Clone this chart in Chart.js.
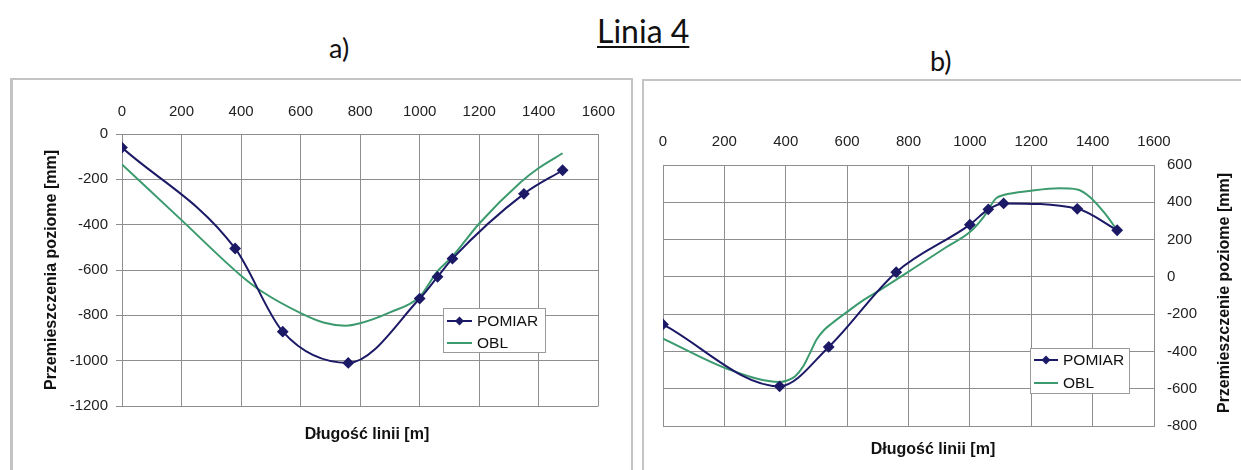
<!DOCTYPE html>
<html><head><meta charset="utf-8">
<script src="https://cdn.jsdelivr.net/npm/chart.js@4.4.1/dist/chart.umd.min.js"></script>
<style>
body{margin:0;width:1241px;height:470px;background:#fff;position:relative;overflow:hidden;font-family:"Liberation Sans",Arial,sans-serif;}
.frame{position:absolute;border:2px solid #c4c4c4;border-bottom:none;box-sizing:border-box;}
#fa{left:10px;top:78px;width:623px;height:392px;border-left-width:3px;}
#fb{left:642px;top:79px;width:599px;height:391px;border-right:none;}
canvas{position:absolute;}
#ca{left:12px;top:80px;}
#cb{left:644px;top:81px;}
.lbl{position:absolute;font-family:Lato,"Open Sans",sans-serif;color:#111;white-space:nowrap;line-height:1;}
#title{left:597px;top:15px;font-size:32px;text-decoration:underline;text-underline-offset:3px;text-decoration-thickness:2px;}
#la{left:329px;top:34px;font-size:27px;}
#lb{left:930px;top:47px;font-size:27px;}
</style></head>
<body>
<div class="frame" id="fa"></div>
<div class="frame" id="fb"></div>
<div class="lbl" id="title">Linia 4</div>
<div class="lbl" id="la">a)</div>
<div class="lbl" id="lb">b)</div>
<canvas id="ca" width="616" height="390"></canvas>
<canvas id="cb" width="597" height="389"></canvas>
<script>
// ---- data ----
const xTicks = [0,200,400,600,800,1000,1200,1400,1600];
const yTicksA = [-1200,-1000,-800,-600,-400,-200,0];
const yTicksB = [-800,-600,-400,-200,0,200,400,600];

const distA   = [0,380,540,760,1000,1060,1110,1350,1480];
const pomiarA = [-60,-505,-872,-1010,-726,-630,-550,-264,-160];
const oblDistA = [0,200,400,470,600,680,750,800,900,1000,1060,1110,1200,1340,1400,1480];
const oblA     = [-134,-380,-625,-695,-790,-833,-846,-835,-787,-718,-605,-540,-395,-212,-150,-85];

const distB   = [0,380,540,760,1000,1060,1110,1350,1480];
const pomiarB = [-255,-587,-376,25,280,362,394,365,250];
const oblDistB = [0,220,380,405,430,457,480,501,525,550,600,653,700,760,816,924,1000,1045,1085,1110,1200,1290,1350,1390,1440,1480];
const oblB     = [-331,-500,-564,-556,-535,-480,-405,-335,-285,-250,-188,-125,-78,-15,45,160,240,322,421,439,462,475,469,430,340,250];

const seriesNames = ['POMIAR','OBL'];
const xTitle = 'Długość linii [m]';
const yTitleA = 'Przemieszczenia poziome [mm]';
const yTitleB = 'Przemieszczenie poziome [mm]';

// ---- styles ----
const NAVY = '#1c1a66';
const GREEN = '#3b9a6e';
const GRID = '#8e8e8e';
const FONT = '"Liberation Sans", Arial, sans-serif';

const pts = (xs, ys) => xs.map((x,i)=>({x, y: ys[i]}));

const legendBox = {
  id: 'legendBox',
  afterDraw(chart, args, o) {
    const ctx = chart.ctx;
    ctx.save();
    ctx.fillStyle = '#fff';
    ctx.fillRect(o.x, o.y, o.w, o.h);
    ctx.strokeStyle = '#9a9a9a';
    ctx.lineWidth = 1;
    ctx.strokeRect(o.x + 0.5, o.y + 0.5, o.w, o.h);
    chart.data.datasets.forEach((ds, i) => {
      const cy = o.y + o.rowY[i];
      ctx.strokeStyle = ds.borderColor;
      ctx.lineWidth = 2;
      ctx.beginPath();
      ctx.moveTo(o.x + o.l0, cy);
      ctx.lineTo(o.x + o.l1, cy);
      ctx.stroke();
      if (ds.pointRadius > 0) {
        const mx = o.x + (o.l0 + o.l1) / 2, r = ds.pointRadius;
        ctx.fillStyle = ds.pointBackgroundColor;
        ctx.beginPath();
        ctx.moveTo(mx, cy - r); ctx.lineTo(mx + r, cy); ctx.lineTo(mx, cy + r); ctx.lineTo(mx - r, cy);
        ctx.closePath(); ctx.fill();
      }
      ctx.fillStyle = '#111';
      ctx.font = '15.5px ' + FONT;
      ctx.textBaseline = 'middle';
      ctx.textAlign = 'left';
      ctx.fillText(ds.label, o.x + o.tx, cy + 1);
    });
    ctx.restore();
  }
};

const axisTexts = {
  id: 'axisTexts',
  afterDraw(chart, args, o) {
    const ctx = chart.ctx;
    ctx.save();
    ctx.fillStyle = '#111';
    ctx.font = 'bold 16px ' + FONT;
    ctx.textAlign = 'center';
    ctx.textBaseline = 'middle';
    o.items.forEach(it => {
      ctx.save();
      ctx.translate(it.x, it.y);
      if (it.rot) ctx.rotate(it.rot);
      ctx.fillText(it.text, 0, 0);
      ctx.restore();
    });
    ctx.restore();
  }
};

function datasets(dx, py, ox, oy) {
  return [
    { label: seriesNames[0], data: pts(dx, py), borderColor: NAVY, backgroundColor: NAVY,
      pointBackgroundColor: NAVY, pointBorderColor: NAVY, pointStyle: 'rectRot', pointRadius: 4.5,
      borderWidth: 2, cubicInterpolationMode: 'monotone', order: 1 },
    { label: seriesNames[1], data: pts(ox, oy), borderColor: GREEN, backgroundColor: GREEN,
      pointRadius: 0, borderWidth: 2, cubicInterpolationMode: 'monotone', order: 2 }
  ];
}

const plain = v => String(v);

function xScale(height, pad) {
  return {
    type: 'linear', position: 'top', min: xTicks[0], max: xTicks[xTicks.length-1],
    afterBuildTicks: s => { s.ticks = xTicks.map(v => ({value: v})); },
    afterFit: s => { s.height = height; },
    grid: { color: GRID, lineWidth: 1, drawTicks: false },
    border: { color: GRID, width: 1 },
    ticks: { padding: pad, color: '#222', font: { family: FONT, size: 15 }, maxRotation: 0, autoSkip: false, callback: plain }
  };
}

function yScale(ticks, pos, width, tickLen, pad) {
  return {
    type: 'linear', position: pos, min: ticks[0], max: ticks[ticks.length-1],
    afterBuildTicks: s => { s.ticks = ticks.map(v => ({value: v})); },
    afterFit: s => { s.width = width; },
    grid: { color: GRID, lineWidth: 1, drawTicks: tickLen > 0, tickLength: tickLen },
    border: { color: GRID, width: 1 },
    ticks: { padding: pad, color: '#222', font: { family: FONT, size: 15 }, autoSkip: false, callback: plain }
  };
}

new Chart(document.getElementById('ca'), {
  type: 'line',
  data: { datasets: datasets(distA, pomiarA, oblDistA, oblA) },
  options: {
    responsive: false, animation: false, events: [],
    layout: { padding: { left: 0, top: 0, right: 16, bottom: 64 } },
    scales: { x: xScale(54, 13), y: yScale(yTicksA, 'left', 110, 6, 8) },
    plugins: {
      legend: { display: false }, tooltip: { enabled: false },
      legendBox: { x: 431, y: 228, w: 102, h: 44, rowY: [13, 35], l0: 4, l1: 29, tx: 34 },
      axisTexts: { items: [
        { text: xTitle, x: 355, y: 355 },
        { text: yTitleA, x: 40, y: 190, rot: -Math.PI/2 }
      ] }
    }
  },
  plugins: [legendBox, axisTexts]
});

new Chart(document.getElementById('cb'), {
  type: 'line',
  data: { datasets: datasets(distB, pomiarB, oblDistB, oblB) },
  options: {
    responsive: false, animation: false, events: [],
    layout: { padding: { left: 19, top: 0, right: 0, bottom: 44 } },
    scales: { x: xScale(84, 14), y: yScale(yTicksB, 'right', 87, 0, 13) },
    plugins: {
      legend: { display: false }, tooltip: { enabled: false },
      legendBox: { x: 386, y: 267, w: 99, h: 45, rowY: [12, 35], l0: 4, l1: 28, tx: 33 },
      axisTexts: { items: [
        { text: xTitle, x: 289, y: 369 },
        { text: yTitleB, x: 581, y: 212, rot: -Math.PI/2 }
      ] }
    }
  },
  plugins: [legendBox, axisTexts]
});
</script>
</body></html>
